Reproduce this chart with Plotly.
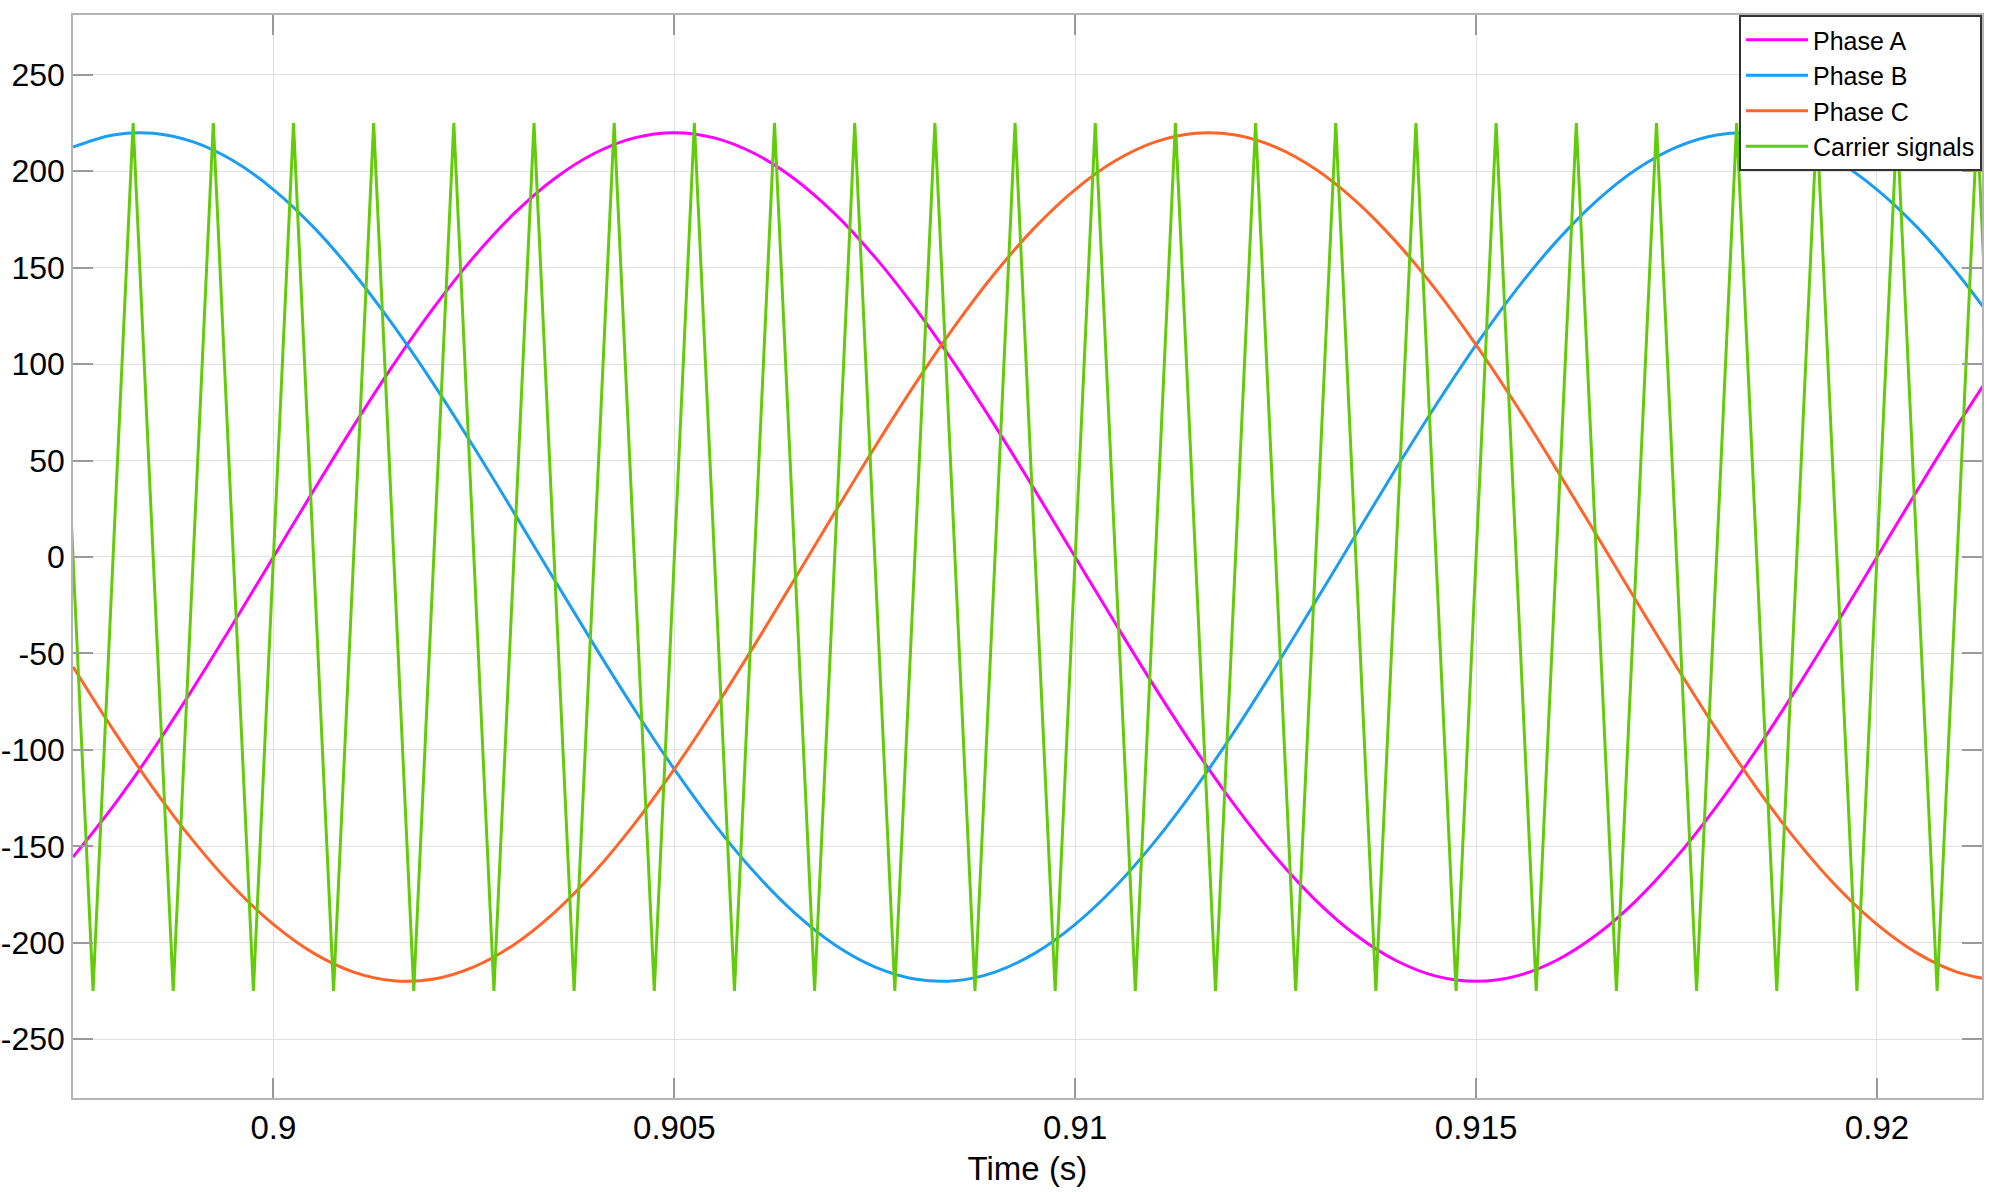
import plotly.graph_objects as go

# sample times for the three phase voltages (s)
t_phase = [0.8975, 0.8980, 0.8985, 0.8990, 0.8995, 0.9000, 0.9005, 0.9010, 0.9015, 0.9020,
           0.9025, 0.9030, 0.9035, 0.9040, 0.9045, 0.9050, 0.9055, 0.9060, 0.9065, 0.9070,
           0.9075, 0.9080, 0.9085, 0.9090, 0.9095, 0.9100, 0.9105, 0.9110, 0.9115, 0.9120,
           0.9125, 0.9130, 0.9135, 0.9140, 0.9145, 0.9150, 0.9155, 0.9160, 0.9165, 0.9170,
           0.9175, 0.9180, 0.9185, 0.9190, 0.9195, 0.9200, 0.9205, 0.9210, 0.9215]

phase_a = [-155.6, -129.3, -99.9, -68.0, -34.4, 0.0, 34.4, 68.0, 99.9, 129.3,
           155.6, 178.0, 196.0, 209.2, 217.3, 220.0, 217.3, 209.2, 196.0, 178.0,
           155.6, 129.3, 99.9, 68.0, 34.4, 0.0, -34.4, -68.0, -99.9, -129.3,
           -155.6, -178.0, -196.0, -209.2, -217.3, -220.0, -217.3, -209.2, -196.0, -178.0,
           -155.6, -129.3, -99.9, -68.0, -34.4, 0.0, 34.4, 68.0, 99.9]

phase_b = [212.5, 218.8, 219.7, 215.2, 205.4, 190.5, 171.0, 147.2, 119.8, 89.5,
           56.9, 23.0, -11.5, -45.7, -78.8, -110.0, -138.5, -163.5, -184.5, -201.0,
           -212.5, -218.8, -219.7, -215.2, -205.4, -190.5, -171.0, -147.2, -119.8, -89.5,
           -56.9, -23.0, 11.5, 45.7, 78.8, 110.0, 138.5, 163.5, 184.5, 201.0,
           212.5, 218.8, 219.7, 215.2, 205.4, 190.5, 171.0, 147.2, 119.8]

phase_c = [-56.9, -89.5, -119.8, -147.2, -171.0, -190.5, -205.4, -215.2, -219.7, -218.8,
           -212.5, -201.0, -184.5, -163.5, -138.5, -110.0, -78.8, -45.7, -11.5, 23.0,
           56.9, 89.5, 119.8, 147.2, 171.0, 190.5, 205.4, 215.2, 219.7, 218.8,
           212.5, 201.0, 184.5, 163.5, 138.5, 110.0, 78.8, 45.7, 11.5, -23.0,
           -56.9, -89.5, -119.8, -147.2, -171.0, -190.5, -205.4, -215.2, -219.7]

# carrier triangle vertices (peaks / troughs)
t_carrier = [0.89725, 0.89775, 0.89825, 0.89875, 0.89925, 0.89975, 0.90025, 0.90075, 0.90125, 0.90175,
             0.90225, 0.90275, 0.90325, 0.90375, 0.90425, 0.90475, 0.90525, 0.90575, 0.90625, 0.90675,
             0.90725, 0.90775, 0.90825, 0.90875, 0.90925, 0.90975, 0.91025, 0.91075, 0.91125, 0.91175,
             0.91225, 0.91275, 0.91325, 0.91375, 0.91425, 0.91475, 0.91525, 0.91575, 0.91625, 0.91675,
             0.91725, 0.91775, 0.91825, 0.91875, 0.91925, 0.91975, 0.92025, 0.92075, 0.92125, 0.92175]
carrier = [225, -225] * 25

x_ticks = [0.9, 0.905, 0.91, 0.915, 0.92]
x_ticktext = ["0.9", "0.905", "0.91", "0.915", "0.92"]
y_ticks = [-250, -200, -150, -100, -50, 0, 50, 100, 150, 200, 250]
y_ticktext = ["-250", "-200", "-150", "-100", "-50", "0", "50", "100", "150", "200", "250"]

FONT = "Liberation Sans, Arial, Helvetica, sans-serif"

fig = go.Figure()
fig.add_trace(go.Scatter(x=t_phase, y=phase_a, mode="lines", name="Phase A",
                         line=dict(color="#ff00ff", width=3, shape="spline")))
fig.add_trace(go.Scatter(x=t_phase, y=phase_b, mode="lines", name="Phase B",
                         line=dict(color="#1c9ef0", width=3, shape="spline")))
fig.add_trace(go.Scatter(x=t_phase, y=phase_c, mode="lines", name="Phase C",
                         line=dict(color="#ff6428", width=3, shape="spline")))
fig.add_trace(go.Scatter(x=t_carrier, y=carrier, mode="lines", name="Carrier signals",
                         line=dict(color="#62cc0a", width=3)))

axis_style = dict(
    showline=True, linecolor="#b4b4b4", linewidth=1.5, mirror="allticks",
    ticks="inside", ticklen=20, tickcolor="#9a9a9a", tickwidth=1.5,
    showgrid=True, gridcolor="#e0e0e0", gridwidth=1, zeroline=False,
    automargin=False,
)

fig.update_xaxes(range=[0.8975, 0.92131], tickvals=x_ticks, ticktext=x_ticktext,
                 tickfont=dict(family=FONT, size=33, color="#000000"),
                 title=dict(text="Time (s)", font=dict(family=FONT, size=33, color="#000000"),
                            standoff=12),
                 **axis_style)
fig.update_yaxes(range=[-280.5, 281], tickvals=y_ticks, ticktext=y_ticktext,
                 tickfont=dict(family=FONT, size=32, color="#000000"),
                 **axis_style)

fig.update_layout(
    width=2000, height=1192,
    margin=dict(l=73, r=18, t=15, b=94),
    plot_bgcolor="white", paper_bgcolor="white",
    font=dict(family=FONT),
    legend=dict(x=1, y=1, xanchor="right", yanchor="top",
                bgcolor="white", bordercolor="#333333", borderwidth=2,
                font=dict(family=FONT, size=25, color="#000000"),
                tracegroupgap=0, itemwidth=62),
    showlegend=True,
)

# drop the default page margin so the figure sits at the window origin
fig.write_html("out.html", config={"displayModeBar": False},
               post_script="document.body.style.margin='0';")
